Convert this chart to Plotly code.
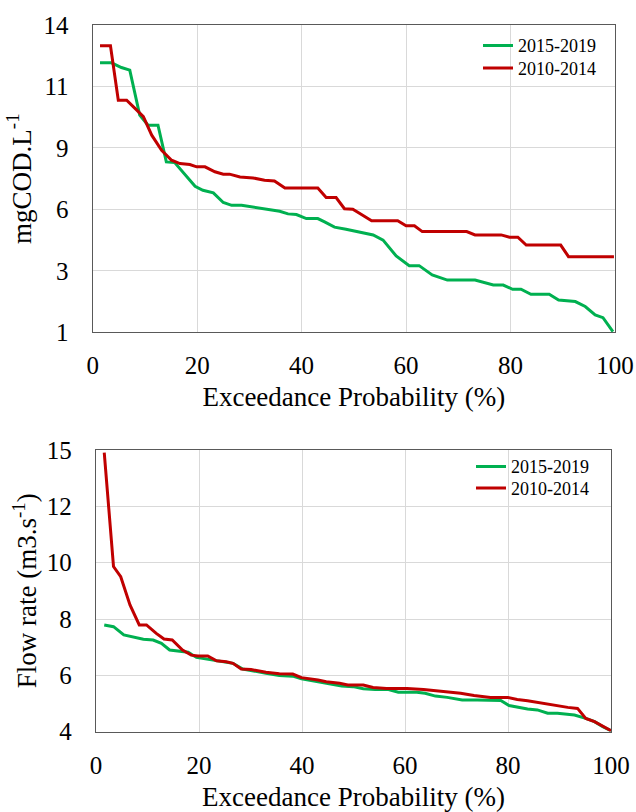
import plotly.graph_objects as go

# ---------- Data: COD (top chart) ----------
cod_green_x = [1.4, 3.6, 5.5, 7.1, 9.0, 10.6, 12.5, 14.1, 15.7, 17.6, 19.6, 21.1, 23.1, 25.0, 26.6,
               28.5, 30.7, 32.6, 34.2, 35.8, 37.4, 39.0, 40.9, 43.1, 44.4, 46.3, 48.5, 50.8, 53.7,
               55.6, 58.1, 60.6, 62.5, 65.0, 67.9, 73.2, 76.7, 78.6, 80.4, 82.0, 83.9, 87.4, 89.2,
               92.4, 94.3, 96.2, 97.7, 99.6]
cod_green_y = [12.40, 12.40, 12.20, 12.09, 10.19, 9.76, 9.76, 8.21, 8.18, 7.71, 7.18, 7.01, 6.90, 6.49, 6.37,
               6.37, 6.30, 6.23, 6.19, 6.12, 6.01, 5.98, 5.81, 5.81, 5.67, 5.45, 5.36, 5.25, 5.12,
               4.90, 4.23, 3.82, 3.82, 3.43, 3.21, 3.21, 3.00, 3.00, 2.82, 2.82, 2.61, 2.61, 2.37,
               2.30, 2.09, 1.74, 1.62, 1.03]
cod_red_x = [1.4, 3.4, 4.9, 6.5, 8.1, 9.7, 11.3, 13.2, 15.1, 16.7, 18.6, 19.9, 21.5, 23.4, 25.0, 26.2,
             28.2, 30.7, 32.9, 34.8, 36.8, 43.1, 44.7, 46.6, 48.2, 49.8, 50.6, 53.4, 58.4, 60.0, 61.6,
             63.1, 71.6, 73.2, 78.2, 79.8, 81.4, 83.0, 89.6, 91.1, 99.8]
cod_red_y = [13.12, 13.12, 10.82, 10.82, 10.47, 10.12, 9.34, 8.70, 8.28, 8.14, 8.10, 8.00, 8.00, 7.79, 7.69, 7.69,
             7.57, 7.53, 7.43, 7.40, 7.10, 7.10, 6.70, 6.70, 6.23, 6.21, 6.10, 5.72, 5.72, 5.51, 5.51,
             5.26, 5.26, 5.12, 5.12, 5.02, 5.02, 4.69, 4.69, 4.20, 4.20]

# ---------- Data: flow rate (bottom chart) ----------
flow_green_x = [1.6, 3.4, 5.4, 7.2, 9.2, 11.1, 12.7, 14.3, 16.3, 17.9, 19.5, 21.4, 23.4, 25.3, 26.6,
                28.5, 31.1, 33.0, 35.6, 38.2, 39.9, 43.1, 45.4, 47.7, 49.9, 51.9, 54.2, 56.8, 58.7,
                62.3, 63.9, 65.9, 68.2, 71.1, 74.0, 78.6, 80.2, 81.8, 83.8, 85.7, 87.7, 89.6, 92.9,
                95.1, 96.8, 98.4, 100.0]
flow_green_y = [8.17, 8.10, 7.78, 7.71, 7.61, 7.58, 7.45, 7.19, 7.13, 7.10, 6.90, 6.84, 6.80, 6.73, 6.67,
                6.45, 6.34, 6.28, 6.19, 6.17, 6.07, 5.95, 5.86, 5.78, 5.76, 5.68, 5.65, 5.65, 5.54,
                5.54, 5.50, 5.39, 5.34, 5.24, 5.24, 5.22, 5.02, 4.95, 4.89, 4.85, 4.72, 4.72, 4.65,
                4.52, 4.39, 4.20, 4.04]
flow_red_x = [1.6, 3.4, 4.8, 6.6, 8.4, 9.8, 11.7, 13.2, 14.8, 16.8, 18.5, 19.8, 21.7, 23.4, 25.3, 26.6,
              28.2, 30.1, 33.0, 35.6, 38.2, 39.9, 43.1, 44.7, 47.3, 48.9, 51.9, 53.8, 56.4, 60.4,
              63.6, 66.9, 68.8, 70.8, 73.4, 76.6, 79.9, 81.8, 83.8, 87.0, 89.0, 91.6, 93.5, 95.1,
              96.8, 98.4, 100.0]
flow_red_y = [14.90, 10.45, 10.05, 8.95, 8.17, 8.17, 7.84, 7.62, 7.58, 7.19, 6.99, 6.96, 6.96, 6.77, 6.73, 6.67,
              6.45, 6.43, 6.32, 6.26, 6.25, 6.11, 6.02, 5.95, 5.89, 5.82, 5.82, 5.73, 5.69, 5.69,
              5.65, 5.59, 5.56, 5.50, 5.41, 5.34, 5.34, 5.26, 5.21, 5.11, 5.02, 4.95, 4.91, 4.52,
              4.39, 4.20, 4.04]

# ---------- Ticks ----------
x_ticks = [0, 20, 40, 60, 80, 100]
cod_tickvals = [1, 3.6, 6.2, 8.8, 11.4, 14]
cod_ticktext = ["1", "3", "6", "9", "11", "14"]
flow_tickvals = [4, 6.2, 8.4, 10.6, 12.8, 15]
flow_ticktext = ["4", "6", "8", "10", "12", "15"]

series_names = ["2015-2019", "2010-2014"]
GREEN = "#00B050"
RED = "#C00000"
FONT = "Liberation Serif"

fig = go.Figure()
fig.add_trace(go.Scatter(x=cod_green_x, y=cod_green_y, mode="lines", name=series_names[0],
                         line=dict(color=GREEN, width=3), xaxis="x", yaxis="y", legend="legend"))
fig.add_trace(go.Scatter(x=cod_red_x, y=cod_red_y, mode="lines", name=series_names[1],
                         line=dict(color=RED, width=3), xaxis="x", yaxis="y", legend="legend3"))
fig.add_trace(go.Scatter(x=flow_green_x, y=flow_green_y, mode="lines", name=series_names[0],
                         line=dict(color=GREEN, width=3), xaxis="x2", yaxis="y2", legend="legend2"))
fig.add_trace(go.Scatter(x=flow_red_x, y=flow_red_y, mode="lines", name=series_names[1],
                         line=dict(color=RED, width=3), xaxis="x2", yaxis="y2", legend="legend4"))

W, H = 636, 812
axis_common = dict(showline=True, linecolor="#595959", linewidth=1.3, mirror=True,
                   showgrid=True, gridcolor="#D9D9D9", gridwidth=1, zeroline=False,
                   ticks="", tickfont=dict(family=FONT, size=25, color="black"),
                   automargin=False)


def leg(x_px, y_px):
    return dict(x=x_px / W, xanchor="left", y=1 - y_px / H, yanchor="middle",
                bgcolor="rgba(0,0,0,0)", font=dict(family=FONT, size=18, color="black"),
                borderwidth=0)


fig.update_layout(
    width=W, height=H,
    margin=dict(l=0, r=0, t=0, b=0),
    paper_bgcolor="white", plot_bgcolor="white",
    font=dict(family=FONT, color="black"),
    showlegend=True,
    xaxis=dict(domain=[92.7 / W, 615 / W], range=[0, 100], tickvals=x_ticks, anchor="y",
               ticklabelstandoff=11,
               title=dict(text="Exceedance Probability (%)", font=dict(family=FONT, size=27), standoff=8),
               **axis_common),
    yaxis=dict(domain=[1 - 332.3 / H, 1 - 25 / H], range=[1, 14], tickvals=cod_tickvals,
               ticktext=cod_ticktext, anchor="x", ticklabelstandoff=18,
               title=dict(text="mgCOD.L<sup>-1</sup>", font=dict(family=FONT, size=27), standoff=4),
               **axis_common),
    xaxis2=dict(domain=[96 / W, 611 / W], range=[0, 100], tickvals=x_ticks, anchor="y2",
                ticklabelstandoff=11,
                title=dict(text="Exceedance Probability (%)", font=dict(family=FONT, size=27), standoff=10),
                **axis_common),
    yaxis2=dict(domain=[1 - 731.7 / H, 1 - 450 / H], range=[4, 15], tickvals=flow_tickvals,
                ticktext=flow_ticktext, anchor="x2", ticklabelstandoff=18,
                title=dict(text="Flow rate (m3.s<sup>-1</sup>)", font=dict(family=FONT, size=27), standoff=2),
                **axis_common),
    legend=leg(478, 45.7),
    legend3=leg(478, 68.3),
    legend2=leg(471, 466.7),
    legend4=leg(471, 488.3),
)

fig.write_html("out.html", config={"displayModeBar": False},
               post_script="document.body.style.margin='0';")
